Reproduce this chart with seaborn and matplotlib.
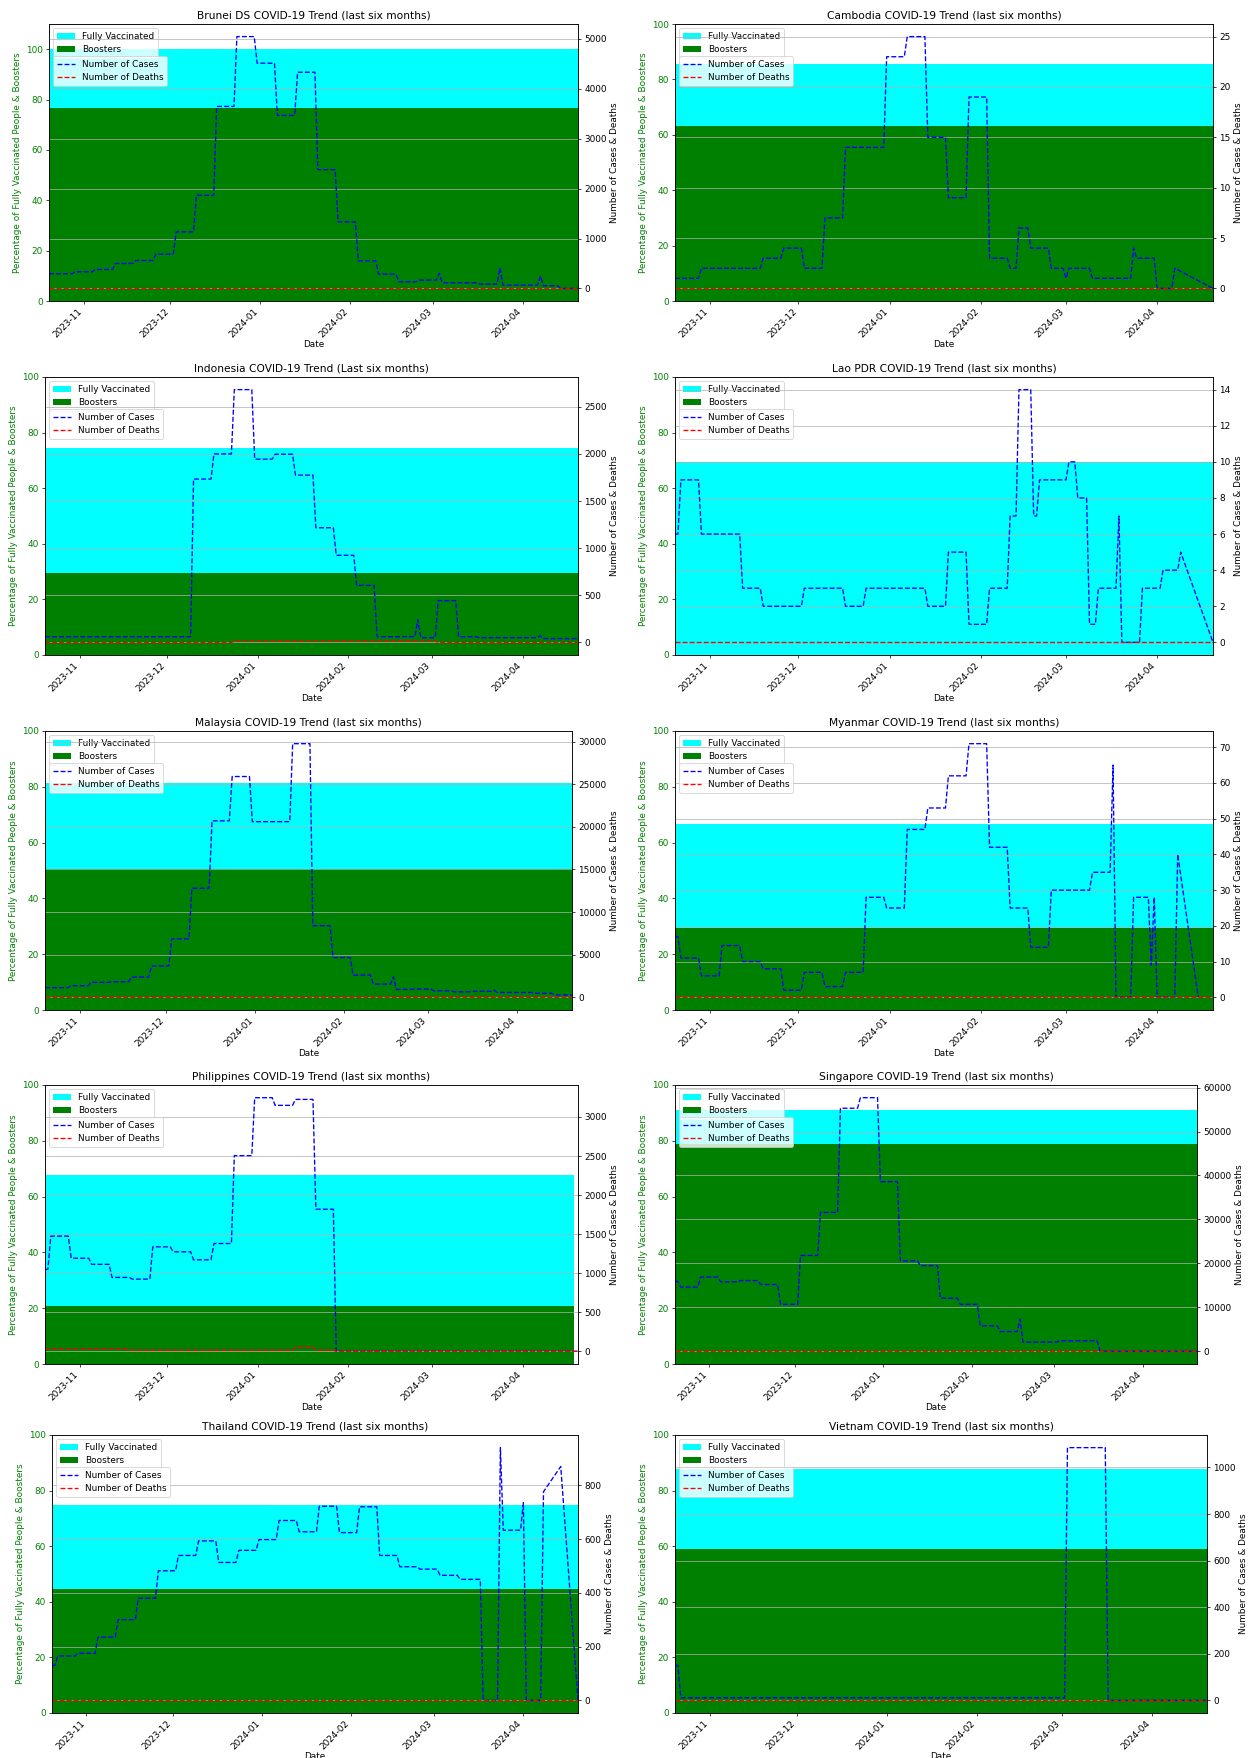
import numpy as np
import pandas as pd
import matplotlib
matplotlib.use("Agg")
import matplotlib.pyplot as plt
import seaborn as sns

## DATA
# Daily axis for the last six months
start_date = "2023-10-20"
end_date = "2024-04-20"

countries = ["Brunei DS", "Cambodia", "Indonesia", "Lao PDR", "Malaysia",
             "Myanmar", "Philippines", "Singapore", "Thailand", "Vietnam"]

titles = [
    "Brunei DS COVID-19 Trend (last six months)",
    "Cambodia COVID-19 Trend (last six months)",
    "Indonesia COVID-19 Trend (Last six months)",
    "Lao PDR COVID-19 Trend (last six months)",
    "Malaysia COVID-19 Trend (last six months)",
    "Myanmar COVID-19 Trend (last six months)",
    "Philippines COVID-19 Trend (last six months)",
    "Singapore COVID-19 Trend (last six months)",
    "Thailand COVID-19 Trend (last six months)",
    "Vietnam COVID-19 Trend (last six months)",
]

# percentage of population
fully_vaccinated = [100.0, 85.6, 74.6, 69.4, 81.3, 66.5, 67.9, 91.0, 74.8, 87.8]
boosters = [76.7, 63.0, 29.5, 0.0, 50.6, 29.4, 20.7, 78.9, 44.5, 59.0]
# last day with vaccination data (None = whole period)
vaccination_last_day = [None, None, None, None, None, None, "2024-04-18", None, None, None]

# (date, value) change points, value holds until next point; None = no report
brunei_cases = [
    ("2023-10-20", 293), ("2023-10-29", 333), ("2023-11-05", 380), ("2023-11-12", 500),
    ("2023-11-19", 560), ("2023-11-26", 687), ("2023-12-03", 1133), ("2023-12-10", 1867),
    ("2023-12-17", 3647), ("2023-12-24", 5047), ("2023-12-31", 4513), ("2024-01-07", 3467),
    ("2024-01-14", 4333), ("2024-01-21", 2380), ("2024-01-28", 1333), ("2024-02-04", 553),
    ("2024-02-11", 287), ("2024-02-18", 133), ("2024-02-25", 167), ("2024-03-03", 300),
    ("2024-03-04", 113), ("2024-03-17", 87), ("2024-03-24", 413), ("2024-03-25", 67),
    ("2024-04-07", 247), ("2024-04-08", 53), ("2024-04-14", 0),
]
cambodia_cases = [
    ("2023-10-20", 1), ("2023-10-29", 2), ("2023-11-19", 3), ("2023-11-26", 4),
    ("2023-12-03", 2), ("2023-12-10", 7), ("2023-12-17", 14), ("2023-12-31", 23),
    ("2024-01-07", 25), ("2024-01-14", 15), ("2024-01-21", 9), ("2024-01-28", 19),
    ("2024-02-04", 3), ("2024-02-11", 2), ("2024-02-14", 6), ("2024-02-18", 4),
    ("2024-02-25", 2), ("2024-03-01", 1), ("2024-03-02", 2), ("2024-03-10", 1),
    ("2024-03-24", 4), ("2024-03-25", 3), ("2024-04-01", 0), ("2024-04-07", 2),
    ("2024-04-08", None), ("2024-04-20", 0),
]
indonesia_cases = [
    ("2023-10-20", 60), ("2023-12-10", 1733), ("2023-12-17", 2000), ("2023-12-24", 2682),
    ("2023-12-31", 1944), ("2024-01-07", 1997), ("2024-01-14", 1775), ("2024-01-21", 1216),
    ("2024-01-28", 924), ("2024-02-04", 605), ("2024-02-11", 60), ("2024-02-25", 240),
    ("2024-02-26", 50), ("2024-03-03", 443), ("2024-03-10", 60), ("2024-03-17", 50),
    ("2024-04-07", 70), ("2024-04-08", 40),
]
lao_cases = [
    ("2023-10-20", 6), ("2023-10-22", 9), ("2023-10-29", 6), ("2023-11-12", 3),
    ("2023-11-19", 2), ("2023-12-03", 3), ("2023-12-17", 2), ("2023-12-24", 3),
    ("2024-01-14", 2), ("2024-01-21", 5), ("2024-01-28", 1), ("2024-02-04", 3),
    ("2024-02-11", 7), ("2024-02-14", 14), ("2024-02-19", 7), ("2024-02-21", 9),
    ("2024-03-02", 10), ("2024-03-05", 8), ("2024-03-09", 1), ("2024-03-12", 3),
    ("2024-03-19", 7), ("2024-03-20", 0), ("2024-03-27", 3), ("2024-04-03", 4),
    ("2024-04-09", 5), ("2024-04-10", None), ("2024-04-20", 0),
]
malaysia_cases = [
    ("2023-10-20", 1130), ("2023-10-29", 1360), ("2023-11-05", 1750), ("2023-11-12", 1820),
    ("2023-11-19", 2370), ("2023-11-26", 3680), ("2023-12-03", 6850), ("2023-12-10", 12800),
    ("2023-12-17", 20700), ("2023-12-24", 25900), ("2023-12-31", 20600), ("2024-01-14", 29750),
    ("2024-01-21", 8400), ("2024-01-28", 4660), ("2024-02-04", 2600), ("2024-02-11", 1550),
    ("2024-02-18", 2400), ("2024-02-19", 930), ("2024-02-25", 965), ("2024-03-03", 770),
    ("2024-03-10", 640), ("2024-03-17", 700), ("2024-03-24", 830), ("2024-03-25", 570),
    ("2024-04-07", 474), ("2024-04-14", 280),
]
myanmar_cases = [
    ("2023-10-20", 17), ("2023-10-22", 11), ("2023-10-29", 6), ("2023-11-05", 14.5),
    ("2023-11-12", 10), ("2023-11-19", 8), ("2023-11-26", 2), ("2023-12-03", 7),
    ("2023-12-10", 3), ("2023-12-17", 7), ("2023-12-24", 28), ("2023-12-31", 25),
    ("2024-01-07", 47), ("2024-01-14", 53), ("2024-01-21", 62), ("2024-01-28", 71),
    ("2024-02-04", 42), ("2024-02-11", 25), ("2024-02-18", 14), ("2024-02-25", 30),
    ("2024-03-10", 35), ("2024-03-17", 65), ("2024-03-18", 0), ("2024-03-24", 28),
    ("2024-03-30", 9), ("2024-03-31", 28), ("2024-04-01", 0), ("2024-04-08", 40),
    ("2024-04-09", None), ("2024-04-15", 0), ("2024-04-16", None),
]
philippines_cases = [
    ("2023-10-20", 1050), ("2023-10-22", 1474), ("2023-10-29", 1192), ("2023-11-05", 1114),
    ("2023-11-12", 946), ("2023-11-19", 924), ("2023-11-26", 1338), ("2023-12-03", 1274),
    ("2023-12-10", 1171), ("2023-12-17", 1380), ("2023-12-24", 2505), ("2023-12-31", 3247),
    ("2024-01-07", 3149), ("2024-01-14", 3225), ("2024-01-21", 1819), ("2024-01-28", 0),
]
singapore_cases = [
    ("2023-10-20", 15900), ("2023-10-22", 14600), ("2023-10-29", 16900), ("2023-11-05", 15800),
    ("2023-11-12", 16100), ("2023-11-19", 15200), ("2023-11-26", 10700), ("2023-12-03", 21800),
    ("2023-12-10", 31600), ("2023-12-17", 55300), ("2023-12-24", 57700), ("2023-12-31", 38600),
    ("2024-01-07", 20600), ("2024-01-14", 19500), ("2024-01-21", 12100), ("2024-01-28", 10700),
    ("2024-02-04", 5800), ("2024-02-11", 4500), ("2024-02-18", 7300), ("2024-02-19", 2100),
    ("2024-03-03", 2400), ("2024-03-17", 0),
]
thailand_cases = [
    ("2023-10-20", 130), ("2023-10-22", 165), ("2023-10-29", 175), ("2023-11-05", 235),
    ("2023-11-12", 300), ("2023-11-19", 380), ("2023-11-26", 482), ("2023-12-03", 539),
    ("2023-12-10", 593), ("2023-12-17", 513), ("2023-12-24", 558), ("2023-12-31", 598),
    ("2024-01-07", 669), ("2024-01-14", 627), ("2024-01-21", 722), ("2024-01-28", 624),
    ("2024-02-04", 720), ("2024-02-11", 539), ("2024-02-18", 497), ("2024-02-25", 488),
    ("2024-03-03", 465), ("2024-03-10", 450), ("2024-03-18", 0), ("2024-03-24", 940),
    ("2024-03-25", 633), ("2024-04-01", 735), ("2024-04-02", 0), ("2024-04-08", 776),
    ("2024-04-09", None), ("2024-04-14", 870), ("2024-04-15", None), ("2024-04-20", 0),
]
vietnam_cases = [
    ("2023-10-20", 150), ("2023-10-22", 11), ("2024-03-03", 1085), ("2024-03-17", 0),
]

no_deaths = [("2023-10-20", 0)]
indonesia_deaths = [("2023-10-20", 0), ("2023-12-24", 14), ("2024-03-03", 0)]
philippines_deaths = [("2023-10-20", 30), ("2023-11-19", 15), ("2024-01-14", 50),
                      ("2024-01-21", 15), ("2024-01-28", 0)]

cases = [brunei_cases, cambodia_cases, indonesia_cases, lao_cases, malaysia_cases,
         myanmar_cases, philippines_cases, singapore_cases, thailand_cases, vietnam_cases]
deaths = [no_deaths, no_deaths, indonesia_deaths, no_deaths, no_deaths,
          no_deaths, philippines_deaths, no_deaths, no_deaths, no_deaths]


dates = pd.date_range(start_date, end_date, freq="D")


def to_daily(points):
    # -1 marks days without a report, they are dropped after forward filling
    s = pd.Series({pd.Timestamp(d): (-1 if v is None else v) for d, v in points})
    s = s.reindex(dates).ffill()
    s[s < 0] = np.nan
    return s.dropna()


## LAYOUT (pixels of the 1250 x 1758 picture)
fig_w, fig_h = 1250, 1758
row_top_px = [24, 377, 731, 1085, 1435]
axes_h_px = [277, 278, 279, 279, 278]
panel_x_px = [(49, 578), (675, 1213), (45, 578), (675, 1213), (45, 572),
              (675, 1213), (45, 578), (675, 1197), (52, 578), (675, 1207)]

## PLOT
dpi = 64
fig, axes = plt.subplots(5, 2, figsize=(fig_w / dpi, fig_h / dpi), dpi=dpi)

for i, ax1 in enumerate(axes.flat):
    vdates = dates if vaccination_last_day[i] is None else dates[dates <= vaccination_last_day[i]]
    ax1.bar(vdates, np.full(len(vdates), fully_vaccinated[i]), width=1.0,
            color="cyan", label="Fully Vaccinated", antialiased=False)
    ax1.bar(vdates, np.full(len(vdates), boosters[i]), width=1.0,
            color="green", label="Boosters", antialiased=False)
    ax1.set_ylabel("Percentage of Fully Vaccinated People & Boosters", color="green")
    ax1.tick_params(axis="y", labelcolor="green")
    ax1.set_ylim(0, 110 if fully_vaccinated[i] >= 100 else 100)
    ax1.set_xlabel("Date", labelpad=0)
    ax1.legend(loc="upper left")

    ax2 = ax1.twinx()
    c = to_daily(cases[i])
    d = to_daily(deaths[i])
    sns.lineplot(x=c.index, y=c.values, ax=ax2, color="blue", linestyle="--",
                 linewidth=1.5, label="Number of Cases")
    sns.lineplot(x=d.index, y=d.values, ax=ax2, color="red", linestyle="--",
                 linewidth=1.5, label="Number of Deaths")
    ax2.set_ylabel("Number of Cases & Deaths")
    ax2.grid(True)
    ax2.legend(loc="upper left", bbox_to_anchor=(0, 0.9))

    ax1.set_title(titles[i])
    ax1.set_xlim(dates[0], dates[-1])
    ax1.tick_params(axis="x", labelrotation=45)
    plt.setp(ax1.get_xticklabels(), ha="right")

    x0, x1 = panel_x_px[i]
    top = row_top_px[i // 2]
    h = axes_h_px[i // 2]
    ax1.set_position([x0 / fig_w, 1 - (top + h) / fig_h,
                      (x1 - x0) / fig_w, h / fig_h])

fig.savefig("out.png", dpi=dpi)
